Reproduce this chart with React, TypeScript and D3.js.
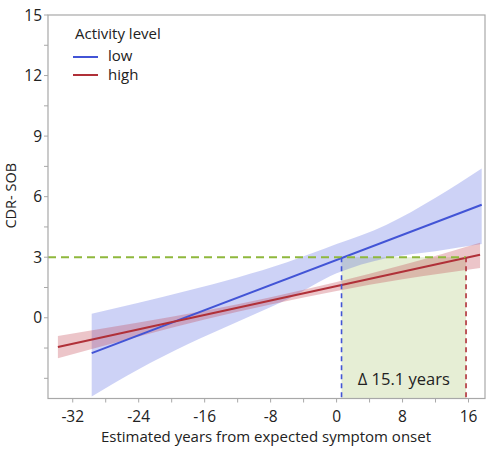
import * as d3 from "d3";

// fitted CDR-SOB trajectories by activity level, with confidence bands
const lowLineX = [-29.7, 17.6];
const lowLineY = [-1.75, 5.6];
const lowBandX = [-29.7, -24, -18, -12, -6, 0, 6, 12, 17.6];
const lowUpper = [0.2, 0.75, 1.35, 2.0, 2.75, 3.65, 4.6, 5.95, 7.4];
const lowLower = [-3.9, -2.55, -1.3, -0.2, 0.9, 2.2, 2.95, 3.3, 3.65];

const highLineX = [-33.8, 17.4];
const highLineY = [-1.45, 3.12];
const highBandX = [-33.8, -24, -16, -8, 0, 8, 17.4];
const highUpper = [-0.9, -0.23, 0.35, 1.02, 1.77, 2.61, 3.72];
const highLower = [-2.0, -0.93, -0.09, 0.66, 1.33, 1.91, 2.47];

// CDR-SOB threshold and the years at which each group reaches it
const threshold = 3;
const onsetLow = 0.6;
const onsetHigh = 15.7;

const xTicks = [-32, -24, -16, -8, 0, 8, 16];
const xMinor = [-28, -20, -12, -4, 4, 12];
const yTicks = [0, 3, 6, 9, 12, 15];
const yMinor = [-3, -1.5, 1.5, 4.5, 7.5, 10.5, 13.5];

const W = 490;
const H = 455;
const left = 48, right = 485, top = 15, bottom = 398.5;

const FONT = "'Open Sans', sans-serif";
const AXIS = "#a8a8a8";
const TEXT = "#222";
const BLUE = "#4254d6";
const RED = "#b03038";
const GREEN = "#8fb83c";

export default function App() {
  const x = d3.scaleLinear().domain([-35, 18]).range([left, right]);
  const y = d3.scaleLinear().domain([-4, 15]).range([bottom, top]);

  const band = (xs: number[], lo: number[], hi: number[]) =>
    d3
      .area<number>()
      .x((_, i) => x(xs[i]))
      .y0((_, i) => y(lo[i]))
      .y1((_, i) => y(hi[i]))
      .curve(d3.curveMonotoneX)(xs) as string;

  const line = (xs: number[], ys: number[]) =>
    d3
      .line<number>()
      .x((_, i) => x(xs[i]))
      .y((_, i) => y(ys[i]))(xs) as string;

  const delta = (onsetHigh - onsetLow).toFixed(1);

  return (
    <svg
      width={W}
      height={H}
      style={{ position: "absolute", left: 0, top: 0, background: "#fff" }}
      fontFamily={FONT}
    >
      {/* shaded gap between the two threshold crossings */}
      <rect
        x={x(onsetLow)}
        y={y(threshold)}
        width={x(onsetHigh) - x(onsetLow)}
        height={bottom - y(threshold)}
        fill="#e6eed5"
      />

      <path d={band(lowBandX, lowLower, lowUpper)} fill="#4a5fe0" fillOpacity={0.28} />
      <path d={band(highBandX, highLower, highUpper)} fill="#c0404c" fillOpacity={0.3} />

      <path d={line(lowLineX, lowLineY)} stroke={BLUE} strokeWidth={2} fill="none" />
      <path d={line(highLineX, highLineY)} stroke={RED} strokeWidth={2} fill="none" />

      {/* threshold and onset markers */}
      <line
        x1={left}
        x2={x(onsetHigh)}
        y1={y(threshold)}
        y2={y(threshold)}
        stroke={GREEN}
        strokeWidth={2}
        strokeDasharray="8,5"
      />
      <line
        x1={x(onsetLow)}
        x2={x(onsetLow)}
        y1={y(threshold)}
        y2={bottom}
        stroke={BLUE}
        strokeWidth={1.6}
        strokeDasharray="5,4"
      />
      <line
        x1={x(onsetHigh)}
        x2={x(onsetHigh)}
        y1={y(threshold)}
        y2={bottom}
        stroke={RED}
        strokeWidth={1.6}
        strokeDasharray="5,4"
      />
      <text
        x={(x(onsetLow) + x(onsetHigh)) / 2}
        y={385}
        textAnchor="middle"
        fontSize={16.5}
        fill={TEXT}
      >
        {`Δ ${delta} years`}
      </text>

      {/* frame */}
      <rect
        x={left}
        y={top}
        width={right - left}
        height={bottom - top}
        fill="none"
        stroke={AXIS}
        strokeWidth={1.2}
      />

      {/* y axis */}
      {[...yTicks, ...yMinor].map((t) => (
        <line key={`yt${t}`} x1={left - 4} x2={left} y1={y(t)} y2={y(t)} stroke={AXIS} />
      ))}
      {yTicks.map((t) => (
        <text
          key={`yl${t}`}
          x={left - 6}
          y={y(t)}
          dy="0.36em"
          textAnchor="end"
          fontSize={15.5}
          fill={TEXT}
        >
          {t}
        </text>
      ))}
      <text
        transform={`translate(16,${(top + bottom) / 2 - 11}) rotate(-90)`}
        textAnchor="middle"
        fontSize={14.5}
        fill={TEXT}
      >
        CDR- SOB
      </text>

      {/* x axis */}
      {[...xTicks, ...xMinor].map((t) => (
        <line key={`xt${t}`} x1={x(t)} x2={x(t)} y1={bottom} y2={bottom + 4} stroke={AXIS} />
      ))}
      {xTicks.map((t) => (
        <text key={`xl${t}`} x={x(t)} y={422} textAnchor="middle" fontSize={15.5} fill={TEXT}>
          {t < 0 ? `-${Math.abs(t)}` : t}
        </text>
      ))}
      <text x={266} y={442} textAnchor="middle" fontSize={15} fill={TEXT}>
        Estimated years from expected symptom onset
      </text>

      {/* legend */}
      <text x={75} y={39} fontSize={15} fill={TEXT}>
        Activity level
      </text>
      <line x1={73} x2={98} y1={57} y2={57} stroke={BLUE} strokeWidth={2} />
      <text x={108} y={61} fontSize={15} fill={TEXT}>
        low
      </text>
      <line x1={73} x2={98} y1={75} y2={75} stroke={RED} strokeWidth={2} />
      <text x={108} y={80} fontSize={15} fill={TEXT}>
        high
      </text>
    </svg>
  );
}
